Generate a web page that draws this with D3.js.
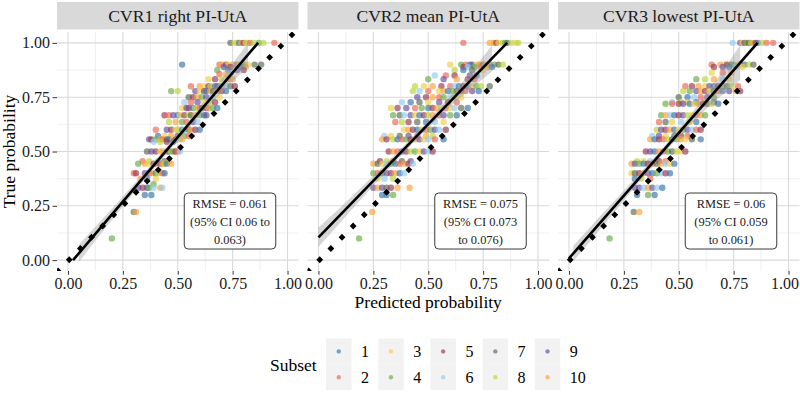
<!DOCTYPE html>
<html><head><meta charset="utf-8">
<script src="https://cdn.jsdelivr.net/npm/d3@7"></script>
<style>
body{margin:0;background:#fff}
svg{display:block}
text{font-family:"Liberation Serif","Times New Roman",serif}
</style>
</head><body><svg id="c" width="800" height="400"></svg>
<script>
// ---------------- data ----------------
const panelTitles = ["CVR1 right PI-UtA", "CVR2 mean PI-UtA", "CVR3 lowest PI-UtA"];
const subsets = ["1","2","3","4","5","6","7","8","9","10"];
const subsetColors = ["#3F77B0","#EF6A55","#F0D04A","#6BAF4B","#9A3C55","#95CBF0","#5E6E52","#BCD63F","#6A54A0","#F9A33F"];
const tickValues = [0, 0.25, 0.5, 0.75, 1];
const tickLabels = ["0.00", "0.25", "0.50", "0.75", "1.00"];
const minorTicks = [0.125, 0.375, 0.625, 0.875];
// fitted calibration line: [x1, y1, x2, y2]
const fitLines = [[0.023, 0.0, 0.866, 1.0], [0.0, 0.105, 0.859, 1.0], [0.0, 0.008, 0.859, 1.0]];
// confidence ribbon
const ribbonX  = [[0.05,0.15,0.30,0.45,0.60,0.72,0.82],[0.00,0.15,0.30,0.45,0.60,0.70,0.79],[0.02,0.15,0.30,0.45,0.60,0.70,0.78]];
const ribbonLo = [[-0.008,0.121,0.309,0.491,0.664,0.792,0.890],[0.060,0.231,0.398,0.559,0.705,0.794,0.868],[-0.004,0.151,0.335,0.513,0.671,0.762,0.829]];
const ribbonHi = [[0.072,0.181,0.349,0.521,0.704,0.862,1.000],[0.150,0.291,0.438,0.589,0.755,0.874,0.988],[0.066,0.211,0.375,0.543,0.731,0.872,0.989]];
// ideal calibration y = x (dotted)
const idealFrom = [-0.045, -0.05];
const idealTo = [1.02, 1.037];
const idealDots = 21;
const rmseText = [["RMSE = 0.061","(95% CI 0.06 to","0.063)"],["RMSE = 0.075","(95% CI 0.073","to 0.076)"],["RMSE = 0.06","(95% CI 0.059","to 0.061)"]];
const rmsePos = [0.738, 0.18];

// rows: [true probability, predicted, subset, predicted, subset, ...]
const cvr1Rows = [
 [1.000, 0.74,7, 0.76,3, 0.77,8, 0.78,1, 0.79,10, 0.80,5, 0.81,3, 0.82,8, 0.83,2, 0.85,8, 0.87,4, 0.89,8, 0.94,2],
 [0.900, 0.52,1, 0.69,2, 0.70,10, 0.72,5, 0.73,3, 0.75,10, 0.76,6, 0.77,2, 0.78,8, 0.80,4, 0.82,3, 0.85,7, 0.88,7],
 [0.889, 0.71,9, 0.74,5, 0.79,1, 0.81,10],
 [0.875, 0.68,4, 0.73,1, 0.77,9, 0.80,5],
 [0.857, 0.69,2, 0.72,10, 0.74,6],
 [0.833, 0.64,3, 0.67,5, 0.70,8, 0.73,2, 0.75,10],
 [0.800, 0.56,2, 0.60,10, 0.62,3, 0.64,5, 0.65,8, 0.67,1, 0.68,9, 0.70,4, 0.72,6, 0.74,7, 0.76,5],
 [0.778, 0.47,4, 0.50,8, 0.58,9, 0.60,3, 0.62,5, 0.63,1, 0.65,10, 0.66,7, 0.68,2, 0.70,5, 0.72,1],
 [0.750, 0.55,7, 0.57,5, 0.59,10, 0.61,4, 0.63,9, 0.66,6, 0.69,3],
 [0.727, 0.53,6, 0.56,2, 0.59,9, 0.62,3, 0.65,8, 0.67,5],
 [0.700, 0.52,3, 0.54,9, 0.55,5, 0.57,1, 0.58,8, 0.60,2, 0.61,7, 0.63,5, 0.64,10, 0.66,4, 0.68,1],
 [0.667, 0.44,5, 0.46,2, 0.48,9, 0.50,1, 0.51,3, 0.53,5, 0.55,8, 0.56,7, 0.58,10, 0.60,4, 0.62,1, 0.63,9],
 [0.636, 0.46,8, 0.49,10, 0.52,4, 0.54,2, 0.57,9, 0.59,6],
 [0.600, 0.40,2, 0.45,9, 0.47,5, 0.49,3, 0.50,8, 0.52,1, 0.53,6, 0.55,7, 0.56,10, 0.58,5, 0.60,1],
 [0.571, 0.41,1, 0.44,3, 0.47,10, 0.50,9, 0.53,4, 0.55,2],
 [0.556, 0.37,9, 0.38,5, 0.40,4, 0.42,10, 0.43,2, 0.45,7, 0.46,1, 0.48,3, 0.49,5, 0.50,8, 0.51,6, 0.52,10],
 [0.545, 0.39,6, 0.42,8, 0.45,5, 0.48,1],
 [0.500, 0.36,7, 0.38,9, 0.40,5, 0.42,3, 0.43,10, 0.45,2, 0.46,1, 0.47,8, 0.48,4, 0.49,5, 0.50,2, 0.51,6],
 [0.455, 0.34,2, 0.37,8, 0.41,6, 0.44,7, 0.46,3],
 [0.444, 0.32,4, 0.35,10, 0.37,3, 0.39,9, 0.40,2, 0.42,5, 0.43,10, 0.44,8, 0.45,1, 0.47,10],
 [0.400, 0.30,2, 0.31,5, 0.35,9, 0.37,5, 0.38,10, 0.40,7, 0.41,8, 0.43,2, 0.44,1],
 [0.375, 0.33,10, 0.36,1, 0.40,3],
 [0.350, 0.39,4],
 [0.333, 0.32,9, 0.34,5, 0.36,9, 0.37,4, 0.39,6, 0.42,10, 0.43,6],
 [0.300, 0.35,1, 0.38,1],
 [0.222, 0.30,7, 0.31,10],
 [0.100, 0.20,4]
];
const cvr2Rows = [
 [1.000, 0.66,2, 0.78,10, 0.79,3, 0.80,10, 0.81,5, 0.82,3, 0.84,8, 0.85,4, 0.86,7, 0.88,8, 0.90,3, 0.91,8],
 [0.900, 0.60,3, 0.65,4, 0.67,2, 0.69,1, 0.70,9, 0.72,3, 0.73,10, 0.75,5, 0.76,8, 0.78,2, 0.80,4, 0.82,7, 0.84,8],
 [0.889, 0.66,5, 0.68,6, 0.71,4, 0.74,2, 0.77,10, 0.79,1],
 [0.875, 0.62,8, 0.66,1, 0.70,7, 0.75,3],
 [0.850, 0.53,6, 0.58,2, 0.62,5, 0.69,9, 0.72,1],
 [0.833, 0.50,4, 0.57,9, 0.63,10, 0.68,5, 0.71,2],
 [0.800, 0.44,8, 0.48,3, 0.52,10, 0.56,5, 0.60,2, 0.62,6, 0.64,1, 0.66,5, 0.68,9, 0.70,3, 0.72,4, 0.74,8, 0.78,7],
 [0.778, 0.43,8, 0.46,6, 0.50,2, 0.55,3, 0.57,10, 0.59,1, 0.61,4, 0.63,7, 0.65,5, 0.67,2, 0.70,9, 0.73,1],
 [0.750, 0.45,9, 0.49,5, 0.52,10, 0.55,2, 0.57,4, 0.60,6, 0.62,8, 0.65,3],
 [0.727, 0.38,6, 0.42,1, 0.46,7, 0.50,3, 0.55,9, 0.59,5, 0.63,2],
 [0.700, 0.33,3, 0.36,5, 0.40,9, 0.44,2, 0.47,4, 0.50,1, 0.52,5, 0.54,10, 0.56,8, 0.58,2, 0.60,3, 0.62,6, 0.65,7, 0.68,1],
 [0.667, 0.34,4, 0.37,7, 0.39,6, 0.42,9, 0.44,3, 0.46,1, 0.48,5, 0.50,8, 0.52,10, 0.55,2, 0.57,9, 0.60,4, 0.63,1],
 [0.636, 0.35,2, 0.38,8, 0.41,5, 0.45,7, 0.49,1, 0.53,6, 0.57,3],
 [0.600, 0.39,3, 0.41,10, 0.43,5, 0.45,1, 0.47,8, 0.49,2, 0.51,4, 0.53,9, 0.55,6, 0.58,5],
 [0.571, 0.30,6, 0.33,3, 0.37,7, 0.41,9, 0.45,2, 0.49,10, 0.52,8],
 [0.556, 0.29,10, 0.31,5, 0.34,8, 0.36,1, 0.38,2, 0.40,4, 0.42,5, 0.44,10, 0.46,9, 0.48,3, 0.50,6, 0.53,2, 0.57,1],
 [0.500, 0.32,5, 0.34,10, 0.36,2, 0.38,1, 0.40,5, 0.42,8, 0.44,4, 0.46,3, 0.48,9, 0.50,6, 0.52,5],
 [0.455, 0.28,5, 0.31,8, 0.34,2, 0.38,7, 0.42,9],
 [0.444, 0.25,10, 0.27,7, 0.29,3, 0.31,6, 0.33,4, 0.35,1, 0.37,2, 0.39,10, 0.41,5, 0.43,6],
 [0.400, 0.25,4, 0.27,2, 0.29,7, 0.31,9, 0.33,5, 0.35,10, 0.37,1, 0.39,6],
 [0.375, 0.27,3, 0.30,6, 0.34,8],
 [0.333, 0.25,9, 0.27,10, 0.29,9, 0.31,7, 0.33,5, 0.36,10, 0.415,10],
 [0.300, 0.29,1, 0.31,1, 0.34,4],
 [0.222, 0.245,10],
 [0.100, 0.185,4]
];
const cvr3Rows = [
 [1.000, 0.745,6, 0.78,9, 0.79,3, 0.80,5, 0.81,4, 0.82,7, 0.83,8, 0.84,10, 0.85,5, 0.86,1, 0.88,8, 0.90,2, 0.93,2],
 [0.900, 0.65,2, 0.69,10, 0.71,3, 0.72,5, 0.74,7, 0.75,4, 0.77,8, 0.78,10, 0.80,1, 0.82,8, 0.84,7],
 [0.889, 0.66,5, 0.70,9, 0.73,1, 0.76,6, 0.79,3],
 [0.863, 0.65,3, 0.70,2, 0.74,10],
 [0.833, 0.58,4, 0.62,8, 0.66,10, 0.70,6, 0.73,3],
 [0.800, 0.53,2, 0.56,5, 0.59,10, 0.62,3, 0.64,9, 0.66,1, 0.68,5, 0.70,4, 0.72,7, 0.74,8, 0.77,2],
 [0.778, 0.52,8, 0.55,4, 0.58,9, 0.60,10, 0.62,5, 0.64,3, 0.66,7, 0.68,2, 0.70,1, 0.73,9, 0.76,10, 0.78,5],
 [0.750, 0.50,7, 0.54,1, 0.57,6, 0.60,2, 0.63,9, 0.66,4],
 [0.727, 0.47,6, 0.51,8, 0.54,3, 0.58,1, 0.62,10, 0.66,9],
 [0.720, 0.44,4, 0.47,2, 0.50,5, 0.52,9, 0.55,1, 0.57,3, 0.59,10, 0.61,5, 0.63,7, 0.65,8, 0.68,1],
 [0.667, 0.42,4, 0.44,10, 0.46,6, 0.48,1, 0.50,5, 0.52,9, 0.54,8, 0.56,3, 0.58,2, 0.60,10, 0.62,4],
 [0.636, 0.41,2, 0.44,7, 0.47,3, 0.51,6, 0.55,8, 0.58,1],
 [0.600, 0.40,8, 0.42,9, 0.44,5, 0.46,10, 0.48,1, 0.50,3, 0.52,4, 0.54,9, 0.56,6, 0.58,2, 0.60,5],
 [0.571, 0.38,6, 0.41,9, 0.44,3, 0.48,7, 0.51,5, 0.54,2],
 [0.556, 0.37,10, 0.39,1, 0.41,5, 0.43,2, 0.45,8, 0.47,9, 0.49,4, 0.51,10, 0.53,3, 0.56,7, 0.60,1],
 [0.500, 0.35,5, 0.37,9, 0.39,1, 0.41,10, 0.43,2, 0.45,4, 0.47,7, 0.49,8, 0.51,3, 0.53,5],
 [0.455, 0.31,8, 0.34,3, 0.37,6, 0.41,5, 0.44,2],
 [0.444, 0.285,10, 0.30,9, 0.32,4, 0.34,1, 0.36,5, 0.38,2, 0.40,7, 0.42,10, 0.44,6, 0.46,3, 0.48,1],
 [0.400, 0.285,3, 0.30,7, 0.32,5, 0.34,10, 0.36,9, 0.38,1, 0.40,4, 0.42,6, 0.44,5, 0.46,1],
 [0.375, 0.30,1, 0.33,8, 0.37,2],
 [0.333, 0.30,9, 0.32,9, 0.34,6, 0.36,10, 0.38,9, 0.40,6, 0.425,1],
 [0.300, 0.31,1, 0.36,4, 0.39,1],
 [0.222, 0.295,7, 0.32,10],
 [0.100, 0.185,4]
];
const panelRows = [cvr1Rows, cvr2Rows, cvr3Rows];

// ---------------- layout ----------------
const svg = d3.select("#c");
const panelLeft = [57, 307.5, 558];
const panelW = 241.5, panelTop = 32, panelBottom = 271;
const stripTop = 2, stripH = 27.5;
const domain = [-0.05, 1.05];
const color = d3.scaleOrdinal().domain(subsets).range(subsetColors);
const serif = '"Liberation Serif","Times New Roman",serif';

panelRows.forEach((rows, p) => {
  const x = d3.scaleLinear().domain(domain).range([panelLeft[p], panelLeft[p] + panelW]);
  const y = d3.scaleLinear().domain(domain).range([panelBottom, panelTop]);
  const g = svg.append("g");

  // strip
  g.append("rect").attr("x", panelLeft[p]).attr("y", stripTop).attr("width", panelW).attr("height", stripH).attr("fill", "#D9D9D9");
  g.append("text").attr("x", panelLeft[p] + panelW / 2).attr("y", stripTop + stripH / 2 + 6)
    .attr("text-anchor", "middle").attr("font-size", 17.6).attr("fill", "#1a1a1a").text(panelTitles[p]);

  // grid
  const grid = g.append("g");
  minorTicks.forEach(t => {
    grid.append("line").attr("x1", x(t)).attr("x2", x(t)).attr("y1", panelTop).attr("y2", panelBottom).attr("stroke", "#E6E6E6").attr("stroke-width", 0.6);
    grid.append("line").attr("y1", y(t)).attr("y2", y(t)).attr("x1", panelLeft[p]).attr("x2", panelLeft[p] + panelW).attr("stroke", "#E6E6E6").attr("stroke-width", 0.6);
  });
  tickValues.forEach(t => {
    grid.append("line").attr("x1", x(t)).attr("x2", x(t)).attr("y1", panelTop).attr("y2", panelBottom).attr("stroke", "#D9D9D9").attr("stroke-width", 1.1);
    grid.append("line").attr("y1", y(t)).attr("y2", y(t)).attr("x1", panelLeft[p]).attr("x2", panelLeft[p] + panelW).attr("stroke", "#D9D9D9").attr("stroke-width", 1.1);
  });

  // clip
  const cid = "clip" + p;
  svg.append("clipPath").attr("id", cid).append("rect").attr("x", panelLeft[p]).attr("y", panelTop).attr("width", panelW).attr("height", panelBottom - panelTop);
  const pg = g.append("g").attr("clip-path", `url(#${cid})`);

  // points
  const pts = rows.flatMap(r => {
    const out = [];
    for (let i = 1; i < r.length; i += 2) out.push({y: r[0], x: r[i], s: String(r[i + 1])});
    return out;
  });
  pg.selectAll("circle.pt").data(pts).join("circle").attr("class", "pt")
    .attr("cx", d => x(d.x)).attr("cy", d => y(d.y)).attr("r", 3.2)
    .attr("fill", d => color(d.s)).attr("fill-opacity", 0.68);

  // ribbon
  const rib = ribbonX[p].map((v, i) => ({x: v, lo: ribbonLo[p][i], hi: ribbonHi[p][i]}));
  pg.append("path").datum(rib)
    .attr("d", d3.area().x(d => x(d.x)).y0(d => y(d.lo)).y1(d => y(d.hi)).curve(d3.curveMonotoneX))
    .attr("fill", "#999999").attr("fill-opacity", 0.4);

  // fit line
  const f = fitLines[p];
  pg.append("line").attr("x1", x(f[0])).attr("y1", y(f[1])).attr("x2", x(f[2])).attr("y2", y(f[3]))
    .attr("stroke", "#000").attr("stroke-width", 2.6);

  // ideal dotted line
  const x1 = x(idealFrom[0]), y1 = y(idealFrom[1]), x2 = x(idealTo[0]), y2 = y(idealTo[1]);
  const len = Math.hypot(x2 - x1, y2 - y1) / idealDots;
  pg.append("line").attr("x1", x1).attr("y1", y1).attr("x2", x2 + (x2 - x1) / idealDots * 0.5).attr("y2", y2 + (y2 - y1) / idealDots * 0.5)
    .attr("stroke", "#000").attr("stroke-width", 4.8).attr("stroke-linecap", "square")
    .attr("stroke-dasharray", `0.01 ${len - 0.01}`);

  // RMSE label
  const cx = x(rmsePos[0]), cy = y(rmsePos[1]);
  const bw = 91.5, bh = 56;
  g.append("rect").attr("x", cx - bw / 2).attr("y", cy - bh / 2).attr("width", bw).attr("height", bh)
    .attr("rx", 4).attr("fill", "#fff").attr("stroke", "#222").attr("stroke-width", 0.9);
  rmseText[p].forEach((t, i) => {
    g.append("text").attr("x", cx).attr("y", cy - 17.5 + i * 18 + 4.5).attr("text-anchor", "middle")
      .attr("font-size", 12.4).attr("fill", "#1a1a1a").text(t);
  });

  // x axis
  const xa = g.append("g").attr("transform", `translate(0,${panelBottom})`)
    .call(d3.axisBottom(x).tickValues(tickValues).tickFormat((d, i) => tickLabels[i]).tickSize(3.7).tickPadding(3));
  xa.attr("font-family", null).attr("font-size", null);
  xa.select(".domain").remove();
  xa.selectAll("line").attr("stroke", "#333");
  xa.selectAll("text").style("font-family", serif).style("font-size", "16px").attr("fill", "#1a1a1a");
  // keep the last label inside the 800 px canvas
  xa.selectAll("text").each(function () {
    const b = this.getBBox();
    const ctm = this.getCTM();
    const right = ctm.e + b.x + b.width;
    if (right > 799) d3.select(this).attr("dx", -(right - 799));
  });

  if (p === 0) {
    const ya = g.append("g").attr("transform", `translate(${panelLeft[0]},0)`)
      .call(d3.axisLeft(y).tickValues(tickValues).tickFormat((d, i) => tickLabels[i]).tickSize(4.5).tickPadding(2.5));
    ya.attr("font-family", null).attr("font-size", null);
    ya.select(".domain").remove();
    ya.selectAll("line").attr("stroke", "#333");
    ya.selectAll("text").style("font-family", serif).style("font-size", "16px").attr("fill", "#1a1a1a");
  }
});

// axis titles
svg.append("text").attr("x", (panelLeft[0] + panelLeft[2] + panelW) / 2).attr("y", 308)
  .attr("text-anchor", "middle").attr("font-size", 17.5).attr("fill", "#000").text("Predicted probability");
svg.append("text").attr("transform", `translate(14.5,${(panelTop + panelBottom) / 2}) rotate(-90)`)
  .attr("text-anchor", "middle").attr("font-size", 17.5).attr("fill", "#000").text("True probability");

// legend
const lg = svg.append("g");
lg.append("text").attr("x", 270).attr("y", 370.5).attr("font-size", 17.5).attr("fill", "#000").text("Subset");
const keyX0 = 326, keyStep = 52.2, keyW = 25.5, keyH = 25.8, keyY0 = 338.5;
subsets.forEach((s, i) => {
  const col = Math.floor(i / 2), row = i % 2;
  const kx = keyX0 + col * keyStep, ky = keyY0 + row * keyH;
  lg.append("rect").attr("x", kx).attr("y", ky).attr("width", keyW).attr("height", keyH).attr("fill", "#F2F2F2");
  lg.append("circle").attr("cx", kx + keyW / 2).attr("cy", ky + keyH / 2).attr("r", 2.2)
    .attr("fill", color(s)).attr("fill-opacity", 0.68);
  lg.append("text").attr("x", kx + keyW + 9.5).attr("y", ky + keyH / 2 + 5.6).attr("font-size", 16).attr("fill", "#000").text(s);
});
</script>
</body></html>
